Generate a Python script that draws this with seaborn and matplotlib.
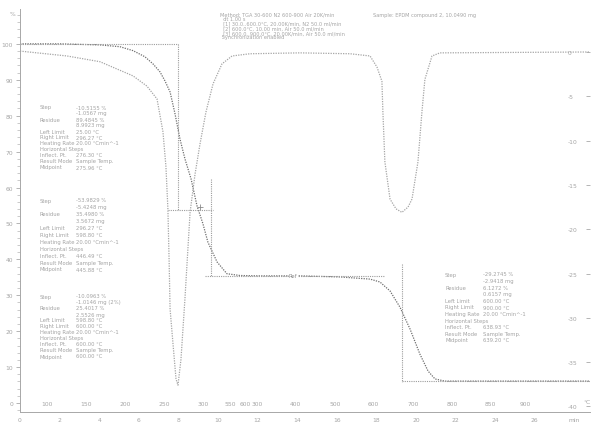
import matplotlib
matplotlib.use("Agg")
import matplotlib.pyplot as plt
from matplotlib.ticker import MultipleLocator, FixedLocator
import numpy as np
import pandas as pd
import seaborn as sns

# ---------------- data ----------------
# TGA curve: time (min) vs. weight (%)
tga_time = [0.00, 2.02, 4.04, 5.05, 5.71, 6.31, 6.72, 7.07, 7.32, 7.58, 7.83, 8.08,
            8.33, 8.64, 8.94, 9.24, 9.49, 9.95, 10.45, 11.11, 12.12, 14.14, 16.16,
            17.68, 18.18, 18.69, 19.19, 19.70, 20.20, 20.61, 20.96, 21.46, 28.79]
tga_weight = [100.0, 100.0, 99.7, 99.2, 98.1, 96.4, 94.4, 92.2, 89.7, 86.6, 80.5, 73.5,
              68.0, 62.4, 54.9, 49.9, 44.8, 39.3, 36.0, 35.5, 35.4, 35.4, 35.1,
              34.5, 33.7, 31.2, 26.7, 20.6, 13.6, 8.9, 6.7, 6.1, 6.1]

# DTG curve: time (min) vs. first derivative (%/min)
dtg_time = [0.00, 2.37, 4.04, 5.71, 6.41, 6.92, 7.22, 7.37, 7.47, 7.53, 7.58, 7.73,
            7.88, 7.98, 8.13, 8.33, 8.59, 8.84, 9.09, 9.39, 9.75, 10.20, 10.71,
            11.62, 14.14, 16.67, 17.68, 18.03, 18.28, 18.33, 18.43, 18.69, 18.99,
            19.29, 19.60, 19.80, 20.10, 20.30, 20.45, 20.81, 21.21, 28.79]
dtg_value = [0.1, -0.45, -1.1, -2.7, -3.85, -5.3, -9.0, -12.9, -17.7, -23.4, -29.0, -33.0,
             -36.9, -37.6, -34.7, -27.9, -18.1, -13.8, -10.4, -6.8, -3.6, -1.35, -0.45,
             -0.2, -0.1, -0.2, -0.45, -1.7, -3.3, -6.8, -12.4, -16.6, -17.7,
             -18.1, -17.5, -16.6, -12.4, -6.8, -3.1, -0.45, -0.1, 0.0]

# step evaluation construction lines (time, weight)
step_lines = [
    ([0.00, 7.98], [100.0, 100.0]),
    ([7.98, 7.98], [100.0, 53.8]),
    ([7.47, 9.75], [53.8, 53.8]),
    ([9.65, 9.65], [62.4, 35.4]),
    ([9.34, 18.40], [35.4, 35.4]),
    ([19.29, 19.29], [38.7, 5.8]),
    ([19.29, 28.79], [6.1, 6.1]),
]

time_ticks = [0, 2, 4, 6, 8, 10, 12, 14, 16, 18, 20, 22, 24, 26, 28]
time_labels = ["0", "2", "4", "6", "8", "10", "12", "14", "16", "18", "20", "22", "24", "26", "min"]
temp_pos = [1.36, 3.33, 5.30, 7.27, 9.24, 10.61, 11.36, 11.97, 13.89, 15.91, 17.83,
            19.85, 21.82, 23.74, 25.51]
temp_labels = ["100", "150", "200", "250", "300", "550", "600", "300", "400", "500",
               "600", "700", "800", "850", "900"]
weight_ticks = [0, 10, 20, 30, 40, 50, 60, 70, 80, 90, 100]
dtg_ticks = [0, -5, -10, -15, -20, -25, -30, -35, -40]

header_lines = [
    "Method: TGA 30-600 N2 600-900 Air 20K/min",
    "  dt 1.00 s",
    "  [1] 30.0..600.0°C, 20.00K/min, N2 50.0 ml/min",
    "  [2] 600.0°C, 10.00 min, Air 50.0 ml/min",
    "  [3] 600.0..900.0°C, 20.00K/min, Air 50.0 ml/min",
    " Synchronization enabled",
]
sample_text = "Sample: EPDM compound 2, 10.0490 mg"

block_labels = ["Step", "", "Residue", "", "Left Limit", "Right Limit", "Heating Rate",
                "Horizontal Steps", "Inflect. Pt.", "Result Mode", "Midpoint"]
block1_values = ["-10.5155 %", "-1.0567 mg", "89.4845 %", "8.9923 mg", "25.00 °C",
                 "296.27 °C", "20.00 °Cmin^-1", "", "276.30 °C", "Sample Temp.", "275.96 °C"]
block2_values = ["-53.9829 %", "-5.4248 mg", "35.4980 %", "3.5672 mg", "296.27 °C",
                 "598.80 °C", "20.00 °Cmin^-1", "", "446.49 °C", "Sample Temp.", "445.88 °C"]
block3_values = ["-10.0963 %", "-1.0146 mg (2%)", "25.4017 %", "2.5526 mg", "598.80 °C",
                 "600.00 °C", "20.00 °Cmin^-1", "", "600.00 °C", "Sample Temp.", "600.00 °C"]
block4_values = ["-29.2745 %", "-2.9418 mg", "6.1272 %", "0.6157 mg", "600.00 °C",
                 "900.00 °C", "20.00 °Cmin^-1", "", "638.93 °C", "Sample Temp.", "639.20 °C"]

# ---------------- figure ----------------
sns.set_style("white")
plt.rcParams['font.family'] = ['DejaVu Sans']
W, H = 593, 427
fig = plt.figure(figsize=(W / 100, H / 100), dpi=100)
ax = fig.add_axes([20 / W, 14 / H, 570 / W, 403 / H])
ax.set_facecolor("none")

tga = pd.DataFrame({"time": tga_time, "weight": tga_weight})
dtg = pd.DataFrame({"time": dtg_time, "dtg": dtg_value})

grey_txt = "#a4a4a4"
sns.lineplot(data=tga, x="time", y="weight", ax=ax, color="#6e6e6e", lw=0.9,
             linestyle=(0, (1, 1)), sort=False, estimator=None)
for xs, ys in step_lines:
    ax.plot(xs, ys, color="#9c9c9c", lw=0.8, linestyle=(0, (1, 1)))

ax.set_xlim(0, 28.79)
ax.set_ylim(-2.5, 109.7)
ax.set_xlabel("")
ax.set_ylabel("")
for s in ["top", "right"]:
    ax.spines[s].set_visible(False)
for s in ["left", "bottom"]:
    ax.spines[s].set_color("#a8a8a8")
    ax.spines[s].set_linewidth(0.7)
    ax.spines[s].set_linestyle((0, (1, 1)))

ax.yaxis.set_major_locator(FixedLocator(weight_ticks))
ax.yaxis.set_minor_locator(MultipleLocator(2))
ax.set_yticklabels([str(v) for v in weight_ticks])
ax.xaxis.set_major_locator(FixedLocator(time_ticks))
ax.xaxis.set_minor_locator(MultipleLocator(0.4))
ax.set_xticklabels(time_labels)
ax.tick_params(axis="both", which="major", labelsize=4.3, labelcolor=grey_txt,
               color="#a8a8a8", length=3, width=0.6, pad=2)
ax.tick_params(axis="both", which="minor", color="#b5b5b5", length=2, width=0.5)
ax.tick_params(axis="x", which="both", direction="inout")

# temperature labels row above the axis
for p, lab in zip(temp_pos, temp_labels):
    ax.text(p, 0.022, lab, transform=ax.get_xaxis_transform(), fontsize=4.3,
            color=grey_txt, ha="center", va="center")
fig.text(590 / W, 1 - 403 / H, "°C", fontsize=4.3, color=grey_txt, ha="right", va="center")
fig.text(13 / W, 1 - 15 / H, "%", fontsize=4.3, color=grey_txt, ha="center", va="center")

# DTG on its own scale
ax2 = ax.twinx()
ax2.set_position([20 / W, 14 / H, 570 / W, 403 / H])
sns.lineplot(data=dtg, x="time", y="dtg", ax=ax2, color="#a5a5a5", lw=0.9,
             linestyle=(0, (1, 1)), sort=False, estimator=None)
ax2.set_ylim(-40.63, 4.85)
ax2.set_xlim(0, 28.79)
ax2.set_ylabel("")
for s in ax2.spines.values():
    s.set_visible(False)
ax2.yaxis.set_major_locator(FixedLocator(dtg_ticks))
ax2.set_yticklabels([str(v) for v in dtg_ticks])
ax2.tick_params(axis="y", direction="in", length=3, width=0.6, color="#a8a8a8",
                labelsize=4.3, labelcolor=grey_txt, pad=-16)

# markers on curves
ax.plot([9.08], [54.5], marker="+", color="#8a8a8a", ms=4, mew=0.6)
ax.text(13.8, 35.4, "Ref", fontsize=3.8, color="#8a8a8a", ha="center", va="center",
        bbox=dict(facecolor="white", edgecolor="none", pad=0.3))

# ---------------- annotation text ----------------
def px(x, y):
    return x / W, 1 - y / H

for i, line in enumerate(header_lines):
    fig.text(*px(220, 15 + i * 4.6), line, fontsize=3.6, color=grey_txt,
             ha="left", va="center")
fig.text(*px(373, 15), sample_text, fontsize=3.6, color=grey_txt, ha="left", va="center")


def block(x_lab, x_val, y0, dy, values):
    for i, (lab, val) in enumerate(zip(block_labels, values)):
        if lab:
            fig.text(*px(x_lab, y0 + i * dy), lab, fontsize=3.8, color=grey_txt,
                     ha="left", va="center")
        if val:
            fig.text(*px(x_val, y0 + i * dy), val, fontsize=3.8, color=grey_txt,
                     ha="left", va="center")


block(40, 76, 108, 6.0, block1_values)
block(40, 76, 201, 6.9, block2_values)
block(40, 76, 297, 6.0, block3_values)
block(445, 483, 275, 6.6, block4_values)

fig.savefig("out.png", dpi=100)
